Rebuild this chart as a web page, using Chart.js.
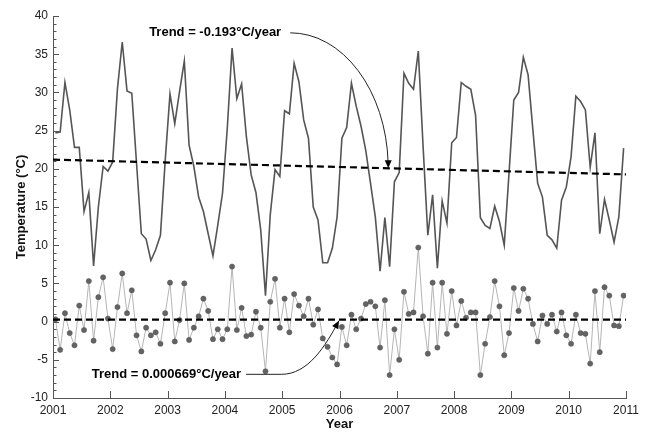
<!DOCTYPE html>
<html>
<head>
<meta charset="utf-8">
<script src="https://cdn.jsdelivr.net/npm/chart.js@4.4.1/dist/chart.umd.min.js"></script>
<style>
html,body{margin:0;padding:0;background:#fff;}
#wrap{width:649px;height:432px;position:relative;}
</style>
</head>
<body>
<div id="wrap"><canvas id="c" width="649" height="432"></canvas></div>
<script>
// ---- data ----
const yearLabels = ['2001','2002','2003','2004','2005','2006','2007','2008','2009','2010','2011'];

// monthly temperature (°C), Jan 2001 .. Dec 2010
const temperature = [
  24.7, 24.8, 31.3, 27.7, 22.8, 22.8, 14.4, 16.9, 7.3, 15.0, 20.3, 19.7,
  20.9, 30.5, 36.6, 30.2, 29.9, 20.7, 11.5, 10.8, 8.0, 9.4, 11.3, 21.1,
  29.8, 25.9, 30.1, 34.1, 23.1, 20.3, 16.3, 14.4, 11.5, 8.6, 12.6, 16.8,
  25.3, 35.8, 29.2, 31.1, 24.2, 19.2, 16.9, 12.0, 3.4, 14.0, 19.9, 19.0,
  27.6, 27.2, 33.8, 31.4, 26.4, 24.0, 15.0, 13.3, 7.7, 7.7, 9.6, 13.7,
  24.0, 25.4, 31.2, 28.2, 25.6, 22.4, 18.1, 13.7, 6.6, 13.6, 7.2, 18.3,
  19.5, 32.5, 31.2, 30.4, 35.4, 23.0, 11.3, 16.6, 7.0, 15.8, 12.9, 23.4,
  24.1, 31.3, 30.8, 30.4, 27.0, 13.6, 12.6, 12.2, 15.1, 13.1, 10.0, 19.4,
  29.0, 30.0, 34.6, 32.3, 25.1, 18.1, 16.3, 11.3, 10.7, 9.6, 15.9, 17.6,
  21.6, 29.5, 28.8, 27.7, 20.2, 24.7, 11.5, 16.0, 13.3, 10.4, 13.7, 22.7
];

// monthly anomaly (°C)
const anomaly = [
  0.3, -3.7, 1.1, -1.5, -3.1, 2.1, -1.1, 5.3, -2.5, 3.2, 5.8, 0.4,
  -3.6, 1.9, 6.3, 1.1, 4.1, -1.8, -3.9, -0.8, -1.8, -1.4, -2.9, 1.1,
  5.1, -2.6, 0.2, 5.0, -2.4, -0.8, 0.7, 3.0, 1.4, -2.3, -1.0, -2.3,
  -1.0, 7.2, -1.1, 1.8, -1.9, -1.7, 1.3, -0.8, -6.5, 2.6, 5.6, -0.8,
  3.0, -1.4, 3.6, 2.1, 0.7, 3.0, -0.4, 1.6, -2.2, -3.3, -4.7, -5.6,
  -0.7, -3.1, 0.9, -1.0, 0.4, 2.3, 2.6, 2.0, -3.4, 2.8, -7.0, -1.0,
  -5.0, 3.9, 1.0, 1.2, 9.7, 0.7, -4.2, 5.1, -3.4, 5.1, -1.6, 4.0,
  -0.5, 2.7, 0.5, 1.2, 1.2, -7.0, -2.9, 0.6, 5.3, 2.0, -4.4, -1.5,
  4.4, 1.4, 4.3, 3.0, -0.3, -2.6, 0.8, -0.3, 0.9, -1.3, 1.2, -1.8,
  -2.9, 0.9, -1.5, -1.6, -5.5, 4.0, -4.0, 4.5, 3.4, -0.5, -0.6, 3.4
];

const trendYears = [2001, 2011];
const trendTemperature = [21.2, 19.27];
const trendAnomaly = [0.25, 0.26];
const trendTexts = ['Trend = -0.193\u00B0C/year', 'Trend = 0.000669\u00B0C/year'];

// ---- build library structures ----
const firstYear = Number(yearLabels[0]);
const monthTime = i => firstYear + (i + 0.5) / 12;   // mid-month position
const tempPoints = temperature.map((v, i) => ({x: monthTime(i), y: v}));
const anomPoints = anomaly.map((v, i) => ({x: monthTime(i), y: v}));
const trendTempPoints = trendYears.map((t, i) => ({x: t, y: trendTemperature[i]}));
const trendAnomPoints = trendYears.map((t, i) => ({x: t, y: trendAnomaly[i]}));

function trendAt(vals, t) {
  const f = (t - trendYears[0]) / (trendYears[1] - trendYears[0]);
  return vals[0] + f * (vals[1] - vals[0]);
}

const FONT = '"Liberation Sans", Arial, Helvetica, sans-serif';

const decor = {
  id: 'decor',
  afterDraw(chart) {
    const {ctx, chartArea: a, scales: {x, y}} = chart;
    ctx.save();
    // inward tick marks
    ctx.strokeStyle = '#555';
    ctx.lineWidth = 1;
    ctx.beginPath();
    for (let v = y.min; v <= y.max; v += 1) {
      const py = Math.round(y.getPixelForValue(v)) + 0.5;
      const len = (v % 5 === 0) ? 6 : 3.5;
      ctx.moveTo(a.left, py); ctx.lineTo(a.left + len, py);
    }
    x.ticks.forEach(t => {
      const px = Math.round(x.getPixelForValue(t.value)) + 0.5;
      ctx.moveTo(px, a.bottom); ctx.lineTo(px, a.bottom - 7);
    });
    ctx.stroke();

    // annotations
    ctx.fillStyle = '#000';
    ctx.font = 'bold 13px ' + FONT;
    ctx.textAlign = 'center';
    ctx.textBaseline = 'middle';

    // top annotation
    const t1x = x.getPixelForValue(2003.83), t1y = y.getPixelForValue(37.8);
    ctx.fillText(trendTexts[0], t1x, t1y);
    const s1x = x.getPixelForValue(2005.14), s1y = y.getPixelForValue(37.8);
    const tipT = 2006.85;
    const p1x = x.getPixelForValue(tipT), p1y = y.getPixelForValue(trendAt(trendTemperature, tipT));
    ctx.strokeStyle = '#222';
    ctx.lineWidth = 1;
    ctx.beginPath();
    ctx.ellipse(s1x, p1y, p1x - s1x, p1y - s1y, 0, -Math.PI / 2, -0.04, false);
    ctx.stroke();
    ctx.beginPath();
    ctx.moveTo(p1x, p1y);
    ctx.lineTo(p1x - 3.5, p1y - 8);
    ctx.lineTo(p1x + 3.5, p1y - 8);
    ctx.closePath();
    ctx.fill();

    // bottom annotation
    const t2x = x.getPixelForValue(2002.98), t2y = y.getPixelForValue(-6.9);
    ctx.fillText(trendTexts[1], t2x, t2y);
    const s2x = x.getPixelForValue(2004.37);
    const c2x = x.getPixelForValue(2004.99);
    const tipB = 2005.99;
    const p2x = x.getPixelForValue(tipB), p2y = y.getPixelForValue(trendAt(trendAnomaly, tipB)) + 1;
    const dx = p2x - c2x, dy = p2y - t2y;
    const k1x = c2x + 0.46 * dx, k1y = t2y;
    const k2x = c2x + 0.77 * dx, k2y = t2y + 0.53 * dy;
    ctx.beginPath();
    ctx.moveTo(s2x, t2y);
    ctx.lineTo(c2x, t2y);
    ctx.bezierCurveTo(k1x, k1y, k2x, k2y, p2x, p2y);
    ctx.stroke();
    const ang = Math.atan2(p2y - k2y, p2x - k2x);
    ctx.save();
    ctx.translate(p2x, p2y);
    ctx.rotate(ang);
    ctx.beginPath();
    ctx.moveTo(0, 0);
    ctx.lineTo(-8, -3.5);
    ctx.lineTo(-8, 3.5);
    ctx.closePath();
    ctx.fill();
    ctx.restore();

    ctx.restore();
  }
};

new Chart(document.getElementById('c'), {
  type: 'line',
  data: {
    datasets: [
      {
        data: trendTempPoints, borderColor: '#000', borderWidth: 2.2,
        borderDash: [7, 4], pointRadius: 0, order: 0
      },
      {
        data: trendAnomPoints, borderColor: '#000', borderWidth: 2.2,
        borderDash: [7, 4], pointRadius: 0, order: 0
      },
      {
        data: tempPoints, borderColor: '#555', borderWidth: 1.6,
        pointRadius: 0, tension: 0, order: 1
      },
      {
        data: anomPoints, borderColor: '#b5b5b5', borderWidth: 1,
        pointRadius: 2.6, pointBackgroundColor: '#636363', pointBorderColor: '#555',
        pointBorderWidth: 0.5, tension: 0, order: 2
      }
    ]
  },
  options: {
    responsive: false,
    devicePixelRatio: 1,
    animation: false,
    layout: {padding: {left: 0, right: 23, top: 16, bottom: 0}},
    plugins: {legend: {display: false}, tooltip: {enabled: false}},
    scales: {
      x: {
        type: 'linear', min: 2001, max: 2011,
        grid: {display: false, drawTicks: false},
        border: {display: true, color: '#555', width: 1},
        ticks: {
          stepSize: 1, padding: 5, color: '#222', maxRotation: 0,
          font: {family: FONT, size: 12},
          callback: (v, i) => yearLabels[i]
        },
        title: {display: true, text: 'Year', color: '#111',
          font: {family: FONT, size: 13, weight: 'bold'}, padding: {top: 0, bottom: 0}},
        afterFit: s => { s.height = 34; }
      },
      y: {
        min: -10, max: 40,
        grid: {display: false, drawTicks: false},
        border: {display: true, color: '#555', width: 1},
        ticks: {stepSize: 5, padding: 5, color: '#222', font: {family: FONT, size: 12}},
        title: {display: true, text: 'Temperature (\u00B0C)', color: '#111',
          font: {family: FONT, size: 13, weight: 'bold'}, padding: {top: 14, bottom: 0}},
        afterFit: s => { s.width = 53; }
      }
    }
  },
  plugins: [decor]
});
</script>
</body>
</html>
